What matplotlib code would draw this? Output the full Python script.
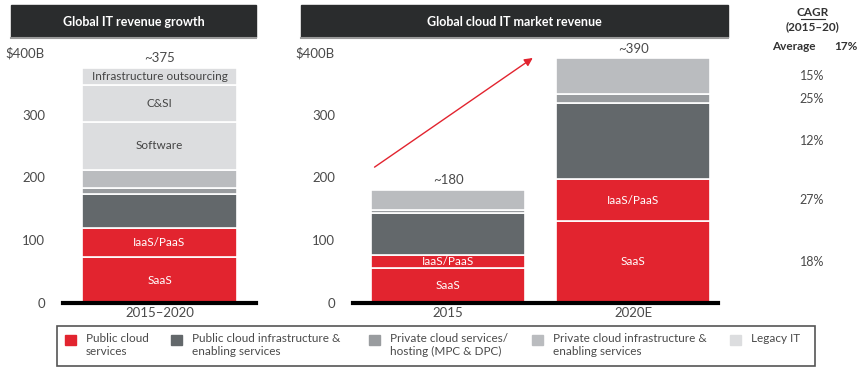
import numpy as np
import matplotlib.pyplot as plt
from matplotlib.patches import Rectangle

plt.rcParams['font.family'] = ['Lato', 'DejaVu Sans']

# colours
red = '#e2242f'
dark = '#63686b'
mid = '#999c9f'
light = '#babcbf'
legacy = '#dcdddf'
txt = '#4a4a4a'

# left panel: global IT revenue 2015-2020 ($B, stacked bottom to top)
left_cat = ['2015–2020']
left_labels = ['SaaS', 'IaaS/PaaS', '', '', '', 'Software', 'C&SI', 'Infrastructure outsourcing']
left_vals = [73, 47, 54, 10, 28, 77, 59, 27]
left_cols = [red, red, dark, mid, light, legacy, legacy, legacy]
left_total = '~375'

# right panel: global cloud IT market revenue ($B)
right_cat = ['2015', '2020E']
seg_names = ['SaaS', 'IaaS/PaaS', '', '', '']
seg_cols = [red, red, dark, mid, light]
v2015 = [56, 21, 67, 5, 31]
v2020 = [131, 66, 121, 15, 57]
right_totals = ['~180', '~390']

cagr = ['18%', '27%', '12%', '25%', '15%']
avg_cagr = '17%'

legend_labels = ['Public cloud\nservices', 'Public cloud infrastructure &\nenabling services',
                 'Private cloud services/\nhosting (MPC & DPC)',
                 'Private cloud infrastructure &\nenabling services', 'Legacy IT']
legend_cols = [red, dark, mid, light, legacy]

W, H = 861, 370
fig = plt.figure(figsize=(W / 100, H / 100), dpi=100)


def px_axes(x0, x1, y_top, y_bot):
    return fig.add_axes([x0 / W, 1 - y_bot / H, (x1 - x0) / W, (y_bot - y_top) / H])


# y = 0 at 303px, 400 at 52px
ax1 = px_axes(63, 256, 52, 303)
ax2 = px_axes(353, 718, 52, 303)

for ax in (ax1, ax2):
    ax.set_ylim(0, 400)
    ax.set_yticks([0, 100, 200, 300, 400])
    ax.set_yticklabels(['0', '100', '200', '300', '$400B'])
    ax.tick_params(axis='y', length=0, pad=13, labelsize=9.5, labelcolor=txt)
    ax.tick_params(axis='x', length=0, pad=3, labelsize=9.5, labelcolor=txt)
    for s in ['top', 'right', 'left']:
        ax.spines[s].set_visible(False)
    ax.spines['bottom'].set_linewidth(3)
    ax.spines['bottom'].set_color('black')
    ax.set_facecolor('none')

# left stacked bar
bottom = 0
for val, col, lab in zip(left_vals, left_cols, left_labels):
    ax1.bar(0, val, bottom=bottom, width=0.8, color=col, edgecolor='white', linewidth=1.2)
    if lab:
        c = 'white' if col == red else '#444444'
        ax1.text(0, bottom + val / 2, lab, ha='center', va='center', fontsize=8.5, color=c)
    bottom += val
ax1.text(0, bottom + 6, left_total, ha='center', va='bottom', fontsize=9.5, color=txt)
ax1.set_xlim(-0.5, 0.5)
ax1.set_xticks([0])
ax1.set_xticklabels(left_cat)

# right stacked bars
x = np.arange(len(right_cat))
data = np.array([v2015, v2020])
bottoms = np.zeros(len(right_cat))
for i in range(len(seg_cols)):
    ax2.bar(x, data[:, i], bottom=bottoms, width=0.832, color=seg_cols[i],
            edgecolor='white', linewidth=1.2)
    if seg_names[i]:
        for j in range(len(x)):
            ax2.text(x[j], bottoms[j] + data[j, i] / 2, seg_names[i], ha='center',
                     va='center', fontsize=8.5, color='white')
    bottoms += data[:, i]
for j in range(len(x)):
    ax2.text(x[j], bottoms[j] + 6, right_totals[j], ha='center', va='bottom',
             fontsize=9.5, color=txt)
ax2.set_xlim(-0.514, 1.459)
ax2.set_xticks(x)
ax2.set_xticklabels(right_cat)

# growth arrow
ax2.annotate('', xy=(0.47, 393), xytext=(-0.41, 214),
             arrowprops=dict(arrowstyle='-|>', color=red, lw=1, mutation_scale=12),
             annotation_clip=False)

# overlay in pixel coordinates for title bars, CAGR column and legend
ov = fig.add_axes([0, 0, 1, 1])
ov.set_xlim(0, W)
ov.set_ylim(H, 0)
ov.axis('off')
ov.patch.set_alpha(0)

for (x0, x1), title in [((11, 256), 'Global IT revenue growth'),
                        ((301, 728), 'Global cloud IT market revenue')]:
    ov.add_patch(Rectangle((x0, 5), x1 - x0, 32, color='#2a2c2d', zorder=2))
    ov.plot([x0, x1], [38, 38], color='#9a9a9a', lw=1.5, zorder=2)
    ov.text((x0 + x1) / 2, 21.5, title, ha='center', va='center', color='white',
            fontsize=9, fontweight='bold')

# CAGR column
ov.text(813, 13, 'CAGR', ha='center', va='center', fontsize=8.5, fontweight='bold', color='#333333')
ov.plot([801, 825], [19, 19], color='#333333', lw=0.8)
ov.text(813, 27, '(2015–20)', ha='center', va='center', fontsize=8.5, fontweight='bold', color='#333333')
ov.text(794, 47, 'Average', ha='center', va='center', fontsize=8.5, fontweight='bold', color='#333333')
ov.text(846, 47, avg_cagr, ha='center', va='center', fontsize=8.5, fontweight='bold', color='#333333')

# place each CAGR next to the middle of its 2020E segment
cum = np.cumsum([0] + v2020)
for i, lab in enumerate(cagr):
    mid_v = (cum[i] + cum[i + 1]) / 2
    yy = 303 - mid_v * (251 / 400)
    ov.text(812, yy, lab, ha='center', va='center', fontsize=9, color=txt)

# legend box
ov.add_patch(Rectangle((57, 326), 758, 40, fill=False, edgecolor='#555555', lw=1.2))
sq_x = [65, 171, 369, 532, 730]
for sx, col, lab in zip(sq_x, legend_cols, legend_labels):
    ov.add_patch(Rectangle((sx, 335), 11, 10, color=col))
    ov.text(sx + 21, 332.5, lab, ha='left', va='top', fontsize=8.5, color=txt, linespacing=1.3)

fig.savefig('out.png', dpi=100)
